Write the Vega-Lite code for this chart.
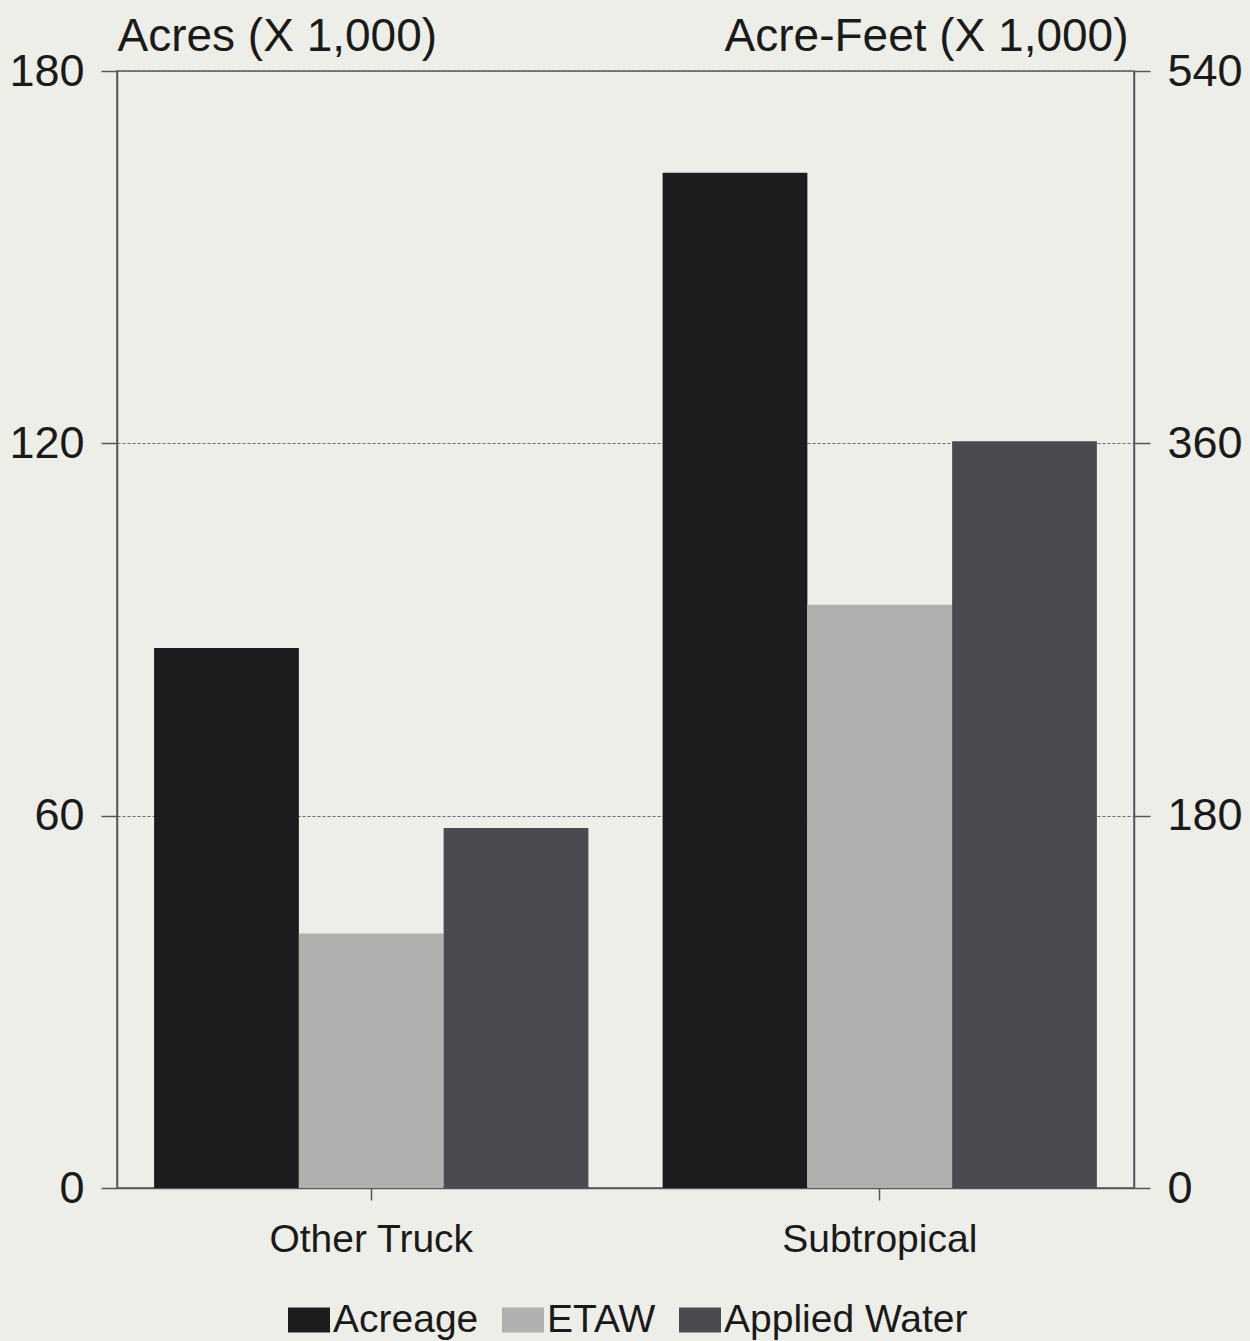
{
  "$schema": "https://vega.github.io/schema/vega-lite/v6.json",
  "width": 1017,
  "height": 1117,
  "autosize": {"type": "none"},
  "padding": {"left": 117, "top": 71, "right": 116, "bottom": 153},
  "background": "#eeeee8",
  "config": {
    "font": "Liberation Sans",
    "view": {"stroke": "#55555f", "strokeWidth": 1.5},
    "axis": {"labelColor": "#1a1a1a", "titleColor": "#1a1a1a", "domainColor": "#55555f", "tickColor": "#55555f", "labelFont": "Liberation Sans", "titleFont": "Liberation Sans", "titleFontWeight": "normal", "labelLimit": 0},
    "legend": {"labelFont": "Liberation Sans", "labelColor": "#1a1a1a", "labelLimit": 0}
  },
  "data": {
    "values": [
      {"crop": "Other Truck", "series": "Acreage", "value": 87},
      {"crop": "Other Truck", "series": "ETAW", "value": 123},
      {"crop": "Other Truck", "series": "Applied Water", "value": 174},
      {"crop": "Subtropical", "series": "Acreage", "value": 163.6},
      {"crop": "Subtropical", "series": "ETAW", "value": 282},
      {"crop": "Subtropical", "series": "Applied Water", "value": 361}
    ]
  },
  "encoding": {
    "x": {
      "field": "crop", "type": "nominal", "sort": ["Other Truck", "Subtropical"],
      "scale": {"paddingInner": 0.146, "paddingOuter": 0.073},
      "axis": {"title": null, "labelAngle": 0, "labelFontSize": 39, "labelPadding": 20, "tickSize": 12, "tickWidth": 1.5, "domainWidth": 1.5, "labelLimit": 0}
    },
    "xOffset": {
      "field": "series", "type": "nominal",
      "scale": {"domain": ["Acreage", "ETAW", "Applied Water"], "paddingInner": 0, "paddingOuter": 0}
    },
    "color": {
      "field": "series", "type": "nominal",
      "scale": {"domain": ["Acreage", "ETAW", "Applied Water"], "range": ["#1c1c1e", "#b0b0ae", "#4a4b50"]},
      "legend": {
        "title": null, "orient": "none", "direction": "horizontal", "legendX": 171, "legendY": 1228,
        "symbolType": "M-1,-0.6H1V0.6H-1Z", "symbolSize": 1764, "symbolStrokeWidth": 0, "symbolOpacity": 1,
        "labelFontSize": 39, "labelOffset": 3, "columnPadding": 23, "padding": 0, "labelLimit": 0
      }
    }
  },
  "layer": [
    {
      "transform": [{"filter": "datum.series === 'Acreage'"}],
      "mark": {"type": "bar", "opacity": 1},
      "encoding": {
        "y": {
          "field": "value", "type": "quantitative",
          "scale": {"domain": [0, 180], "nice": false},
          "axis": {
            "orient": "left", "values": [0, 60, 120, 180], "grid": true, "gridDash": [3, 2], "gridColor": "#6a6a72", "gridWidth": 1,
            "labelFontSize": 45, "labelPadding": 17, "tickSize": 16, "tickWidth": 1.5, "domainWidth": 1.5,
            "title": "Acres (X 1,000)", "titleFontSize": 46, "titleAngle": 0, "titleAlign": "left", "titleBaseline": "alphabetic", "titleX": 0, "titleY": -21
          }
        }
      }
    },
    {
      "transform": [{"filter": "datum.series !== 'Acreage'"}],
      "mark": {"type": "bar", "opacity": 1},
      "encoding": {
        "y": {
          "field": "value", "type": "quantitative",
          "scale": {"domain": [0, 540], "nice": false},
          "axis": {
            "orient": "right", "values": [0, 180, 360, 540], "grid": false,
            "labelFontSize": 45, "labelPadding": 17, "tickSize": 16, "tickWidth": 1.5, "domainWidth": 1.5,
            "title": "Acre-Feet (X 1,000)", "titleFontSize": 46, "titleAngle": 0, "titleAlign": "right", "titleBaseline": "alphabetic", "titleX": -6, "titleY": -21
          }
        }
      }
    }
  ],
  "resolve": {"scale": {"y": "independent"}}
}
